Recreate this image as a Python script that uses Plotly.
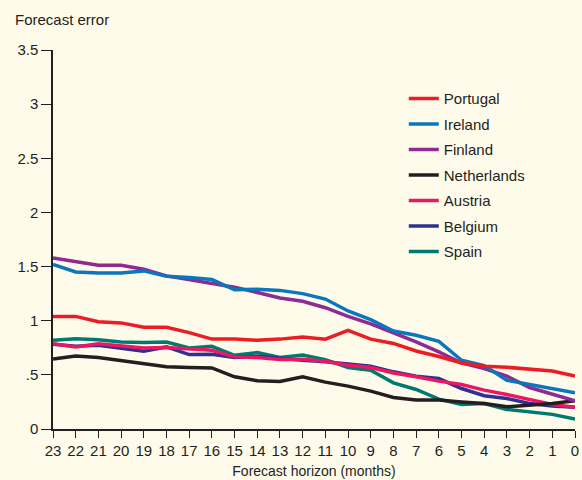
import plotly.graph_objects as go

# forecast horizon in months (23 down to 0)
months = list(range(23, -1, -1))

portugal = [1.04, 1.04, 0.99, 0.98, 0.94, 0.94, 0.89, 0.83, 0.83, 0.82, 0.83, 0.85,
            0.83, 0.91, 0.83, 0.79, 0.72, 0.67, 0.61, 0.58, 0.57, 0.555, 0.535, 0.49]
ireland = [1.52, 1.45, 1.44, 1.44, 1.46, 1.41, 1.40, 1.38, 1.285, 1.29, 1.28, 1.25,
           1.20, 1.09, 1.01, 0.905, 0.865, 0.81, 0.635, 0.585, 0.45, 0.41, 0.375, 0.335]
finland = [1.58, 1.546, 1.512, 1.512, 1.475, 1.414, 1.377, 1.34, 1.31, 1.26, 1.21, 1.18,
           1.12, 1.04, 0.97, 0.887, 0.804, 0.712, 0.61, 0.558, 0.488, 0.383, 0.322, 0.26]
netherlands = [0.647, 0.675, 0.66, 0.629, 0.604, 0.574, 0.567, 0.564, 0.482, 0.445, 0.439, 0.482,
               0.433, 0.396, 0.35, 0.291, 0.267, 0.267, 0.25, 0.236, 0.205, 0.218, 0.236, 0.26]
austria = [0.788, 0.758, 0.788, 0.767, 0.748, 0.752, 0.736, 0.727, 0.666, 0.66, 0.641, 0.645,
           0.626, 0.589, 0.567, 0.518, 0.482, 0.442, 0.411, 0.359, 0.319, 0.276, 0.227, 0.2]
belgium = [0.782, 0.764, 0.773, 0.742, 0.718, 0.758, 0.687, 0.69, 0.66, 0.672, 0.65, 0.635,
           0.62, 0.604, 0.58, 0.528, 0.488, 0.466, 0.374, 0.307, 0.282, 0.236, 0.212, 0.2]
spain = [0.819, 0.834, 0.825, 0.804, 0.798, 0.804, 0.748, 0.764, 0.681, 0.706, 0.66, 0.684,
         0.641, 0.567, 0.543, 0.426, 0.365, 0.276, 0.227, 0.236, 0.181, 0.16, 0.135, 0.092]

series = [
    ("Portugal", portugal, "#ed1c24"),
    ("Ireland", ireland, "#0b76be"),
    ("Finland", finland, "#8e2a91"),
    ("Netherlands", netherlands, "#231f20"),
    ("Austria", austria, "#ec1763"),
    ("Belgium", belgium, "#2e3192"),
    ("Spain", spain, "#007a70"),
]

y_ticks = [0, 0.5, 1, 1.5, 2, 2.5, 3, 3.5]
y_labels = ["0", ".5", "1", "1.5", "2", "2.5", "3", "3.5"]

FONT = "Liberation Sans, Arial, sans-serif"
bg = "#fffbea"

fig = go.Figure()
# draw in reverse so Portugal sits on top, legendrank keeps the legend order
for i, (name, vals, col) in reversed(list(enumerate(series))):
    fig.add_trace(go.Scatter(x=months, y=vals, mode="lines", name=name, legendgroup=name,
                             legendrank=i + 1, line=dict(color=col, width=3.5)))

fig.update_layout(
    width=582, height=480,
    paper_bgcolor=bg, plot_bgcolor=bg,
    margin=dict(l=53, r=3, t=50, b=51),
    font=dict(family=FONT, size=15, color="#231f20"),
    showlegend=True,
    legend=dict(x=0.672, y=0.915, xanchor="left", yanchor="top",
                bgcolor="rgba(0,0,0,0)", traceorder="grouped",
                font=dict(size=15), itemwidth=30, tracegroupgap=3),
    annotations=[
        dict(text="Forecast error", xref="paper", yref="paper",
             x=-0.076, y=1.052, xanchor="left", yanchor="bottom",
             showarrow=False, font=dict(size=15)),
    ],
)

fig.update_xaxes(range=[23, 0], tickvals=months, ticktext=[str(m) for m in months],
                 showgrid=False, zeroline=False, showline=True, linecolor="#231f20",
                 linewidth=1.5, ticks="outside", ticklen=7, tickcolor="#231f20",
                 ticklabeloverflow="allow",
                 title=dict(text="Forecast horizon (months)", standoff=8,
                            font=dict(size=14)))
fig.update_yaxes(range=[0, 3.5], tickvals=y_ticks, ticktext=y_labels,
                 showgrid=False, zeroline=False, showline=True, linecolor="#231f20",
                 linewidth=1.5, ticks="outside", ticklen=10, tickcolor="#231f20")

fig.write_html("out.html", config={"displayModeBar": False},
               post_script="document.body.style.margin='0';document.body.style.background='%s';" % bg)
